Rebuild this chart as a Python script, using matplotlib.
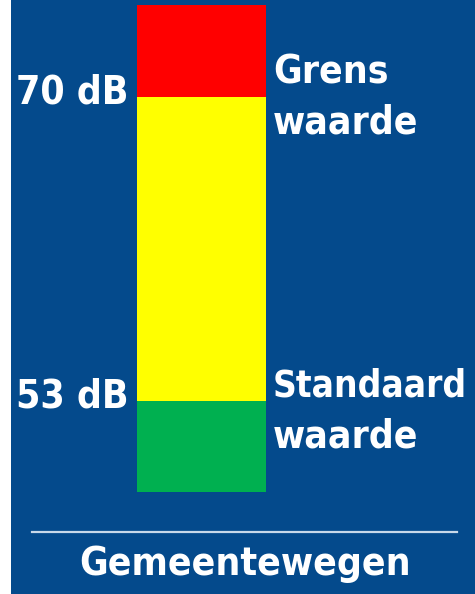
import matplotlib
matplotlib.use("Agg")
import matplotlib.pyplot as plt
from matplotlib.patches import Rectangle

# zone boundaries in dB (bottom of green .. top of red)
levels = [47.9, 53, 70, 75.2]
zone_colors = ["#00b050", "#ffff00", "#ff0000"]
level_labels = {70: "70 dB", 53: "53 dB"}
side_labels = {70: ("Grens", "waarde"), 53: ("Standaard", "waarde")}
category = "Gemeentewegen"

BLUE = "#044a8c"
W, H = 475, 594

fig = plt.figure(figsize=(W / 100, H / 100), dpi=100, facecolor="white")
# blue panel, small white strip on the left
fig.patches.append(Rectangle((11 / W, 0), 1 - 11 / W, 1, transform=fig.transFigure,
                             facecolor=BLUE, edgecolor="none", zorder=-1))

ax = fig.add_axes([137 / W, 0, 129 / W, 1])
ax.set_zorder(2)
ax.set_facecolor("none")
ax.set_xlim(-0.5, 0.5)
ax.set_ylim(42.19, 75.46)
ax.axis("off")

for lo, hi, c in zip(levels[:-1], levels[1:], zone_colors):
    ax.bar(0, hi - lo, bottom=lo, width=1, color=c, edgecolor="none")

font = dict(family="DejaVu Sans", weight="bold", stretch="condensed", color="white")

offsets = {70: (6, 14, -36), 53: (7, 4, -47)}
for lvl, txt in level_labels.items():
    dl, d1, d2 = offsets[lvl]
    ax.annotate(txt, xy=(-0.5, lvl), xytext=(-8, -dl), textcoords="offset pixels",
                ha="right", va="baseline", annotation_clip=False, size=28, **font)
    l1, l2 = side_labels[lvl]
    ax.annotate(l1, xy=(0.5, lvl), xytext=(7, d1), textcoords="offset pixels",
                ha="left", va="baseline", annotation_clip=False,
                size=26.5 if len(l1) > 6 else 28, **font)
    ax.annotate(l2, xy=(0.5, lvl), xytext=(7, d2), textcoords="offset pixels",
                ha="left", va="baseline", annotation_clip=False, size=28, **font)

# separator line and category label
fig.add_artist(plt.Line2D([32 / W, 457 / W], [1 - 532 / H, 1 - 532 / H],
                          color="#c9d9ea", lw=1.6))
fig.text(245 / W, 1 - 575 / H, category, ha="center", va="baseline", size=28, **font)

fig.savefig("out.png", dpi=100, facecolor="white")
